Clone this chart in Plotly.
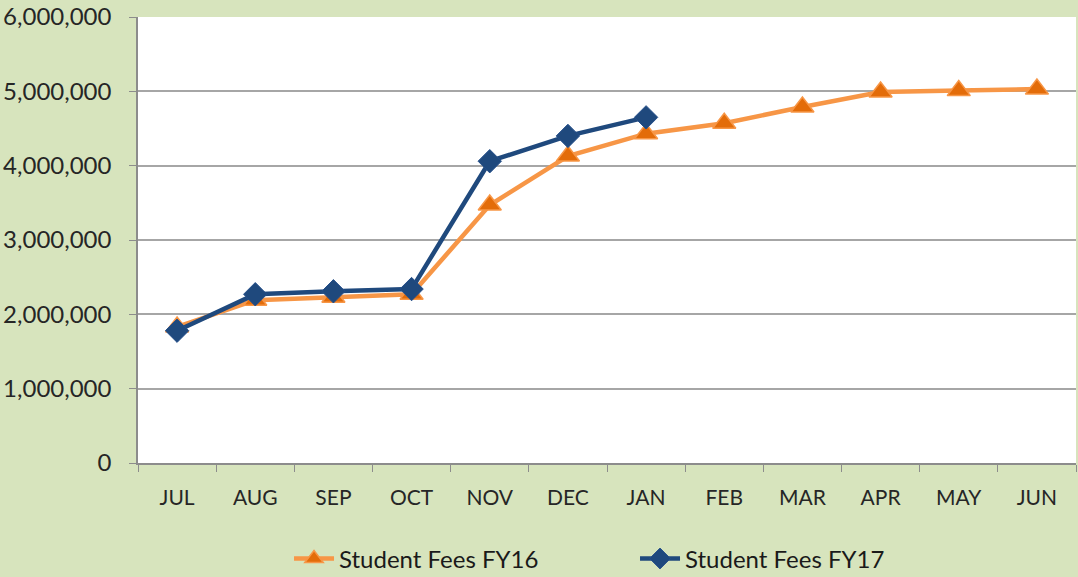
import plotly.graph_objects as go

months = ["JUL", "AUG", "SEP", "OCT", "NOV", "DEC", "JAN", "FEB", "MAR", "APR", "MAY", "JUN"]
fy16 = [1830000, 2190000, 2230000, 2270000, 3470000, 4130000, 4430000, 4570000, 4790000, 4990000, 5010000, 5030000]
fy17 = [1780000, 2270000, 2310000, 2340000, 4060000, 4400000, 4650000]
fy17_months = months[:len(fy17)]

fig = go.Figure()
fig.add_trace(go.Scatter(
    x=months, y=fy16, name="Student Fees FY16", mode="lines+markers",
    line=dict(color="#f79646", width=4.5),
    marker=dict(symbol="triangle-up", size=20, color="#e36c09", line=dict(color="#f79646", width=1.5)),
))
fig.add_trace(go.Scatter(
    x=fy17_months, y=fy17, name="Student Fees FY17", mode="lines+markers",
    line=dict(color="#1f497d", width=4.5),
    marker=dict(symbol="diamond", size=18, color="#1f497d", line=dict(color="#254f8a", width=1)),
))

fig.update_layout(
    width=1078, height=577,
    margin=dict(l=138, r=2, t=17, b=114, autoexpand=False),
    paper_bgcolor="#d7e4bd",
    plot_bgcolor="#ffffff",
    font=dict(family="Lato", size=22, color="#262626"),
    showlegend=True,
    legend=dict(orientation="h", x=0.161, xanchor="left", y=-0.215, yanchor="middle",
                font=dict(family="Lato", size=24, color="#1a1a1a"), bgcolor="rgba(0,0,0,0)",
                entrywidth=291, itemwidth=40),
    xaxis=dict(type="category", categoryorder="array", categoryarray=months, automargin=False,
               range=[-0.5, 11.5], showgrid=False, showline=True, linecolor="#8c8c8c", linewidth=1.5,
               ticks="outside", tickson="boundaries", ticklen=7, tickcolor="#8c8c8c",
               tickfont=dict(family="Lato", size=21, color="#262626"), ticklabelstandoff=15),
    yaxis=dict(range=[0, 6000000], dtick=1000000, tickformat=",", showgrid=True, automargin=False,
               gridcolor="#a6a6a6", gridwidth=1.5, showline=True, linecolor="#8c8c8c", linewidth=1.5,
               ticks="outside", ticklen=7, tickcolor="#8c8c8c", zeroline=False,
               tickfont=dict(family="Lato", size=24, color="#262626"), ticklabelstandoff=13),
)

fig.write_html("out.html", config={"displayModeBar": False},
               post_script="document.body.style.margin='0';document.body.style.padding='0';")
